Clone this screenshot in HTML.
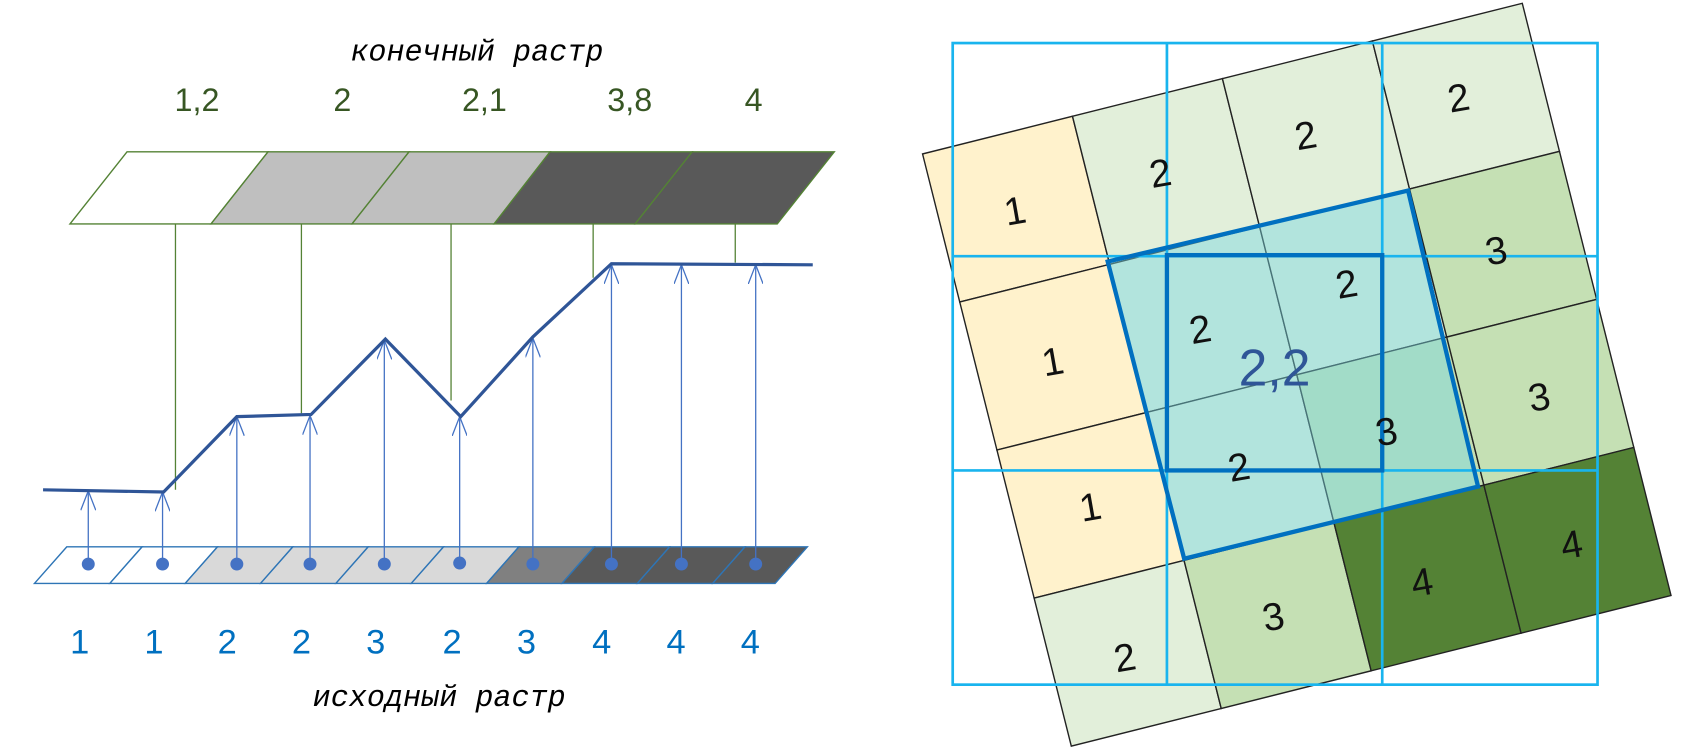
<!DOCTYPE html>
<html><head><meta charset="utf-8"><style>
html,body{margin:0;padding:0;background:#fff;width:1688px;height:754px;overflow:hidden}
svg{display:block}
</style></head><body>
<svg width="1688" height="754" viewBox="0 0 1688 754" xmlns="http://www.w3.org/2000/svg">
<defs>
<marker id="ah" markerWidth="20" markerHeight="14" refX="18" refY="7" orient="auto" markerUnits="userSpaceOnUse" viewBox="0 0 20 14">
<path d="M0,0 L18,7 L0,14" fill="none" stroke="#4472c4" stroke-width="1.2"/>
</marker>
</defs>
<g transform="scale(1.0765)">
<text x="443" y="56" font-family="Liberation Mono, monospace" font-style="italic" font-size="28" text-anchor="middle" fill="#000">конечный растр</text>
<text x="408" y="656" font-family="Liberation Mono, monospace" font-style="italic" font-size="28" text-anchor="middle" fill="#000">исходный растр</text>
<g font-family="Liberation Sans, sans-serif" font-size="30" fill="#375623" text-anchor="middle">
<text x="183" y="103">1,2</text><text x="318" y="103">2</text><text x="450" y="103">2,1</text><text x="585" y="103">3,8</text><text x="700" y="103">4</text>
</g>
<g stroke="#548235" stroke-width="1.3">
<polygon points="65,208 118,141 249,141 196,208" fill="#fff"/>
<polygon points="196,208 249,141 380,141 327,208" fill="#bfbfbf"/>
<polygon points="327,208 380,141 511,141 459,208" fill="#bfbfbf"/>
<polygon points="459,208 511,141 643,141 590,208" fill="#595959"/>
<polygon points="590,208 643,141 775,141 722,208" fill="#595959"/>
</g>
<g stroke="#548235" stroke-width="1.2">
<line x1="163" y1="208" x2="163" y2="455"/><line x1="280" y1="208" x2="280" y2="384"/>
<line x1="419" y1="208" x2="419" y2="372"/><line x1="551" y1="208" x2="551" y2="258"/>
<line x1="683" y1="208" x2="683" y2="244"/>
</g>
<g stroke="#2e75b6" stroke-width="1.3">
<polygon points="32,542 62,508 132,508 102,542" fill="#fff"/>
<polygon points="102,542 132,508 202,508 172,542" fill="#fff"/>
<polygon points="172,542 202,508 272,508 242,542" fill="#d9d9d9"/>
<polygon points="242,542 272,508 342,508 312,542" fill="#d9d9d9"/>
<polygon points="312,542 342,508 412,508 382,542" fill="#d9d9d9"/>
<polygon points="382,542 412,508 482,508 452,542" fill="#d9d9d9"/>
<polygon points="452,542 482,508 552,508 522,542" fill="#808080"/>
<polygon points="522,542 552,508 622,508 592,542" fill="#595959"/>
<polygon points="592,542 622,508 692,508 662,542" fill="#595959"/>
<polygon points="662,542 692,508 750,508 720,542 " fill="#595959"/>
</g>
<g stroke="#4472c4" stroke-width="1.2" marker-end="url(#ah)">
<line x1="82" y1="524" x2="82" y2="456"/><line x1="151" y1="524" x2="151" y2="457"/>
<line x1="220" y1="524" x2="220" y2="387"/><line x1="288" y1="524" x2="288" y2="386"/>
<line x1="357" y1="524" x2="357" y2="316"/><line x1="427" y1="524" x2="427" y2="387"/>
<line x1="495" y1="524" x2="495" y2="314"/><line x1="568" y1="524" x2="568" y2="246"/>
<line x1="633" y1="524" x2="633" y2="246"/><line x1="702" y1="524" x2="702" y2="246"/>
</g>
<g fill="#4472c4">
<circle cx="82" cy="524" r="6"/><circle cx="151" cy="524" r="6"/><circle cx="220" cy="524" r="6"/><circle cx="288" cy="524" r="6"/><circle cx="357" cy="524" r="6"/><circle cx="427" cy="523" r="6"/><circle cx="495" cy="524" r="6"/><circle cx="568" cy="524" r="6"/><circle cx="633" cy="524" r="6"/><circle cx="702" cy="524" r="6"/>
</g>
<polyline points="40,455 152,457 220,387 289,385 358,315 428,387 495,313 568,245 755,246" fill="none" stroke="#2f5597" stroke-width="3"/>
<g font-family="Liberation Sans, sans-serif" font-size="32" fill="#0070c0" text-anchor="middle">
<text x="74" y="607">1</text><text x="143" y="607">1</text><text x="211" y="607">2</text><text x="280" y="607">2</text><text x="349" y="607">3</text><text x="420" y="607">2</text><text x="489" y="607">3</text><text x="559" y="607">4</text><text x="628" y="607">4</text><text x="697" y="607">4</text>
</g>
<g transform="translate(857,143) rotate(-14.1)" stroke="#222" stroke-width="1.3">
<rect x="0" y="0" width="143.6" height="141.8" fill="#fff2cc"/>
<rect x="143.6" y="0" width="143.6" height="141.8" fill="#e2efda"/>
<rect x="287.2" y="0" width="143.6" height="141.8" fill="#e2efda"/>
<rect x="430.8" y="0" width="143.6" height="141.8" fill="#e2efda"/>
<rect x="0" y="141.8" width="143.6" height="141.8" fill="#fff2cc"/>
<rect x="143.6" y="141.8" width="143.6" height="141.8" fill="#e2efda"/>
<rect x="287.2" y="141.8" width="143.6" height="141.8" fill="#e2efda"/>
<rect x="430.8" y="141.8" width="143.6" height="141.8" fill="#c5e0b4"/>
<rect x="0" y="283.6" width="143.6" height="141.8" fill="#fff2cc"/>
<rect x="143.6" y="283.6" width="143.6" height="141.8" fill="#e2efda"/>
<rect x="287.2" y="283.6" width="143.6" height="141.8" fill="#c5e0b4"/>
<rect x="430.8" y="283.6" width="143.6" height="141.8" fill="#c5e0b4"/>
<rect x="0" y="425.4" width="143.6" height="141.8" fill="#e2efda"/>
<rect x="143.6" y="425.4" width="143.6" height="141.8" fill="#c5e0b4"/>
<rect x="287.2" y="425.4" width="143.6" height="141.8" fill="#548235"/>
<rect x="430.8" y="425.4" width="143.6" height="141.8" fill="#548235"/>
</g>
<polygon points="1029,243 1308,177 1373,452 1100,519" fill="rgba(120,215,225,0.45)" stroke="none"/>
<g stroke="#19b4ee" stroke-width="2.5" fill="none">
<rect x="885" y="40" width="599" height="596"/>
<line x1="1084" y1="40" x2="1084" y2="636"/><line x1="1284" y1="40" x2="1284" y2="636"/>
<line x1="885" y1="238" x2="1484" y2="238"/><line x1="885" y1="437" x2="1484" y2="437"/>
</g>
<polygon points="1029,243 1308,177 1373,452 1100,519" fill="none" stroke="#0070c0" stroke-width="4"/>
<rect x="1084" y="237" width="200" height="200" fill="none" stroke="#0070c0" stroke-width="4"/>
<g font-family="Liberation Sans, sans-serif" font-size="36" fill="#111" text-anchor="middle">
<text transform="translate(945,208) rotate(-10)">1</text>
<text transform="translate(1080,173) rotate(-10)">2</text>
<text transform="translate(1215,138) rotate(-10)">2</text>
<text transform="translate(1357,103) rotate(-10)">2</text>
<text transform="translate(980,348) rotate(-10)">1</text>
<text transform="translate(1117,318) rotate(-10)">2</text>
<text transform="translate(1253,276) rotate(-10)">2</text>
<text transform="translate(1392,245) rotate(-10)">3</text>
<text transform="translate(1015,483) rotate(-10)">1</text>
<text transform="translate(1153,446) rotate(-10)">2</text>
<text transform="translate(1290,413) rotate(-10)">3</text>
<text transform="translate(1432,381) rotate(-10)">3</text>
<text transform="translate(1047,623) rotate(-10)">2</text>
<text transform="translate(1185,585) rotate(-10)">3</text>
<text transform="translate(1323,553) rotate(-10)">4</text>
<text transform="translate(1462,518) rotate(-10)">4</text>
</g>
<text x="1184" y="358" font-family="Liberation Sans, sans-serif" font-size="48" fill="#2f5597" text-anchor="middle">2,2</text>
</g>
</svg>
</body></html>
